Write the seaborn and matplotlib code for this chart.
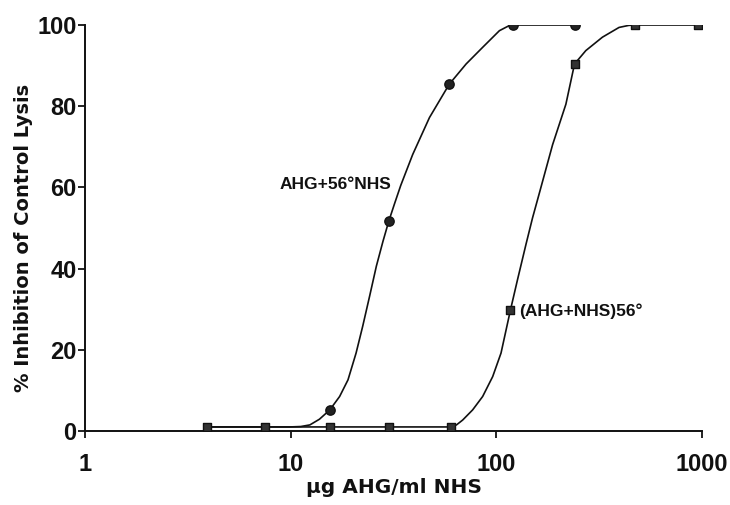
import matplotlib
matplotlib.use("Agg")
import matplotlib.pyplot as plt
import seaborn as sns
import pandas as pd

# measured points (x = ug AHG/ml NHS, y = % inhibition)
circle_x = [15.5, 30, 59, 121, 240]
circle_y = [5.2, 51.7, 85.4, 100, 100]
square_x = [3.9, 7.5, 15.5, 30, 60, 117, 240, 470, 960]
square_y = [1, 1, 1, 1, 1, 29.7, 90.4, 100, 100]

# fitted curves
curve1_x = [3.9, 8, 9.9, 11.2, 12.4, 13.8, 15.5, 17.3, 19.0, 20.8, 22.4, 24.2, 26.1,
            28.1, 30, 32, 34.3, 39.2, 47.3, 59, 71.3, 85.8, 103.5, 115, 121, 240]
curve1_y = [1, 1, 1, 1.1, 1.5, 2.9, 5.2, 8.5, 12.6, 19.2, 25.8, 33.2, 40.6,
            46.7, 51.7, 56, 60.5, 68.1, 77.2, 85.4, 90.4, 94.5, 98.6, 99.8, 100, 100]
curve2_x = [3.9, 60, 64, 68.6, 76.7, 85.8, 96, 105.4, 117, 126.8, 139.4, 150, 161.7,
            187.7, 217.9, 240, 272.4, 328, 395, 440, 470, 960]
curve2_y = [1, 1, 1.5, 2.7, 5.2, 8.5, 13.4, 19.2, 29.7, 37.3, 46, 52.5, 58.5,
            70.5, 80.5, 90.4, 93.7, 97, 99.4, 99.9, 100, 100]

x_ticks = [1, 10, 100, 1000]
y_ticks = [0, 20, 40, 60, 80, 100]

sns.set_theme(style="ticks")
plt.rcParams["font.family"] = ["Liberation Sans", "DejaVu Sans"]
plt.rcParams["font.weight"] = "bold"

fig = plt.figure(figsize=(7.3, 5.05), dpi=100)
ax = fig.add_axes([85 / 730, 1 - 431 / 505, 617 / 730, 406 / 505])

ink = "#111111"
c1 = pd.DataFrame({"x": curve1_x, "y": curve1_y})
c2 = pd.DataFrame({"x": curve2_x, "y": curve2_y})
sns.lineplot(data=c1, x="x", y="y", color=ink, linewidth=1.2, sort=False, ax=ax)
sns.lineplot(data=c2, x="x", y="y", color=ink, linewidth=1.2, sort=False, ax=ax)
sns.scatterplot(x=square_x, y=square_y, marker="s", s=40, color="#333333",
                edgecolor=ink, linewidth=1.0, zorder=3, ax=ax)
sns.scatterplot(x=circle_x, y=circle_y, marker="o", s=45, color="#222222",
                edgecolor=ink, linewidth=1.0, zorder=3, ax=ax)

ax.set_xscale("log")
ax.set_xlim(1, 1000)
ax.set_ylim(0, 100)
ax.set_xticks(x_ticks)
ax.set_xticklabels([str(t) for t in x_ticks])
ax.set_yticks(y_ticks)
ax.set_yticklabels([str(t) for t in y_ticks])
ax.minorticks_off()
ax.tick_params(axis="y", length=5, width=1.3, pad=1, labelsize=17, colors=ink)
ax.tick_params(axis="x", length=5, width=1.3, pad=11, labelsize=17, colors=ink)
for side in ["top", "right"]:
    ax.spines[side].set_visible(False)
for side in ["left", "bottom"]:
    ax.spines[side].set_linewidth(1.4)
    ax.spines[side].set_color(ink)

ax.text(31, 60.7, "AHG+56°NHS", ha="right", va="center", fontsize=12.5,
        fontweight="bold", color=ink)
ax.text(129, 29.6, "(AHG+NHS)56°", ha="left", va="center", fontsize=12.5,
        fontweight="bold", color=ink)

label_font = ["DejaVu Sans"]
ax.set_xlabel("μg AHG/ml NHS", fontsize=14.5, fontweight="bold", color=ink,
              labelpad=1, family=label_font)
ax.set_ylabel("% Inhibition of Control Lysis", fontsize=14, fontweight="bold",
              color=ink, labelpad=4, family=label_font)
ax.yaxis.set_label_coords(-0.084, 0.475)

fig.savefig("out.png", dpi=100, facecolor="white")
